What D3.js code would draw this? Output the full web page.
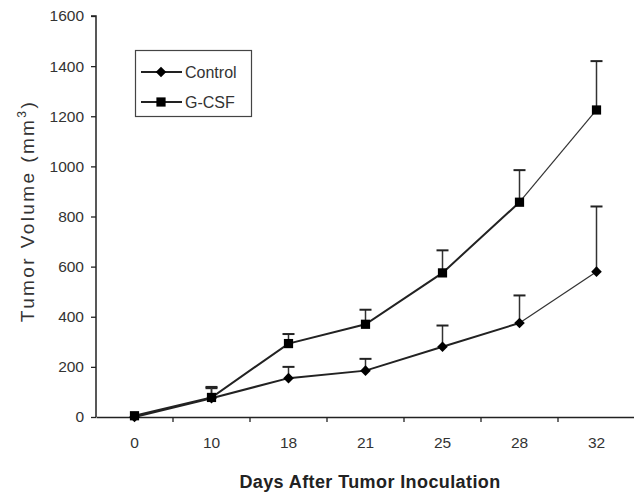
<!DOCTYPE html>
<html><head><meta charset="utf-8">
<script src="https://cdn.jsdelivr.net/npm/d3@7"></script>
<style>body{margin:0;background:#fff}svg{display:block}text{font-family:"Liberation Sans",Arial,sans-serif}</style>
</head><body><svg id="c" width="634" height="492"></svg>
<script>
const days = ["0","10","18","21","25","28","32"];
const controlVals = [0, 75, 155, 185, 280, 375, 580];
const controlErr = [0, 40, 45, 47, 85, 110, 260];
const gcsfVals = [5, 78, 293, 370, 575, 857, 1225];
const gcsfErr = [0, 42, 38, 58, 90, 128, 195];
const yTicks = [0, 200, 400, 600, 800, 1000, 1200, 1400, 1600];

const svg = d3.select("#c");
const x = d3.scaleBand().domain(days).range([96, 635]);
const y = d3.scaleLinear().domain([0, 1600]).range([417, 16]);
const ink = "#222";

// axes
const yAxis = svg.append("g").attr("transform", "translate(96,0)")
  .call(d3.axisLeft(y).tickValues(yTicks).tickFormat(d3.format("d")).tickSize(5).tickPadding(7));
yAxis.select(".domain").attr("stroke", ink).attr("stroke-width", 1.5).attr("d", `M-5,${y(1600)}H0V${y(0)}`);
yAxis.selectAll(".tick line").attr("stroke", ink).attr("stroke-width", 1.3);
yAxis.selectAll("text").attr("font-size", 15.5).attr("fill", "#333");

const xAxis = svg.append("g").attr("transform", "translate(0,417)")
  .call(d3.axisBottom(x).tickSize(0).tickPadding(20));
xAxis.select(".domain").attr("stroke", ink).attr("stroke-width", 1.5);
xAxis.selectAll("text").attr("font-size", 15.5).attr("fill", "#333");
// ticks between categories
svg.append("g").selectAll("line").data(days).join("line")
  .attr("x1", d => x(d) + x.bandwidth()).attr("x2", d => x(d) + x.bandwidth())
  .attr("y1", 417).attr("y2", 422).attr("stroke", ink).attr("stroke-width", 1.3);

// titles
svg.append("text").attr("transform", "translate(34,211) rotate(-90)")
  .attr("text-anchor", "middle").attr("font-size", 19).attr("fill", "#333")
  .attr("letter-spacing", 2.4)
  .call(t => { t.append("tspan").text("Tumor Volume (mm");
               t.append("tspan").attr("font-size", 12).attr("dy", -8).text("3");
               t.append("tspan").attr("dy", 8).text(")"); });
svg.append("text").attr("x", 370).attr("y", 488).attr("text-anchor", "middle")
  .attr("font-size", 18).attr("font-weight", "bold").attr("fill", "#222").attr("letter-spacing", 0.4)
  .text("Days After Tumor Inoculation");

const cx = d => x(d) + x.bandwidth() / 2;
const markerD = { diamond: d3.symbol().type(d3.symbolSquare).size(56)(), square: d3.symbol().type(d3.symbolSquare).size(85)() };

function series(vals, errs, shape) {
  const g = svg.append("g");
  const pts = days.map((d, i) => ({ d, v: vals[i], e: errs[i] }));
  const eb = pts.filter(p => p.e > 0);
  g.selectAll(".eb").data(eb).join("line").attr("x1", p => cx(p.d)).attr("x2", p => cx(p.d))
    .attr("y1", p => y(p.v)).attr("y2", p => y(p.v + p.e)).attr("stroke", "#333").attr("stroke-width", 1.5);
  g.selectAll(".cap").data(eb).join("line").attr("x1", p => cx(p.d) - 6).attr("x2", p => cx(p.d) + 6)
    .attr("y1", p => y(p.v + p.e)).attr("y2", p => y(p.v + p.e)).attr("stroke", ink).attr("stroke-width", 2);
  const line = d3.line().x(p => cx(p.d)).y(p => y(p.v));
  g.append("path").attr("d", line(pts.slice(0, 6))).attr("fill", "none").attr("stroke", ink).attr("stroke-width", 2);
  g.append("path").attr("d", line(pts.slice(5))).attr("fill", "none").attr("stroke", "#333").attr("stroke-width", 1.2);
  g.selectAll(".m").data(pts).join("path")
    .attr("d", markerD[shape])
    .attr("transform", p => `translate(${cx(p.d)},${y(p.v)})` + (shape === "diamond" ? " rotate(45)" : ""))
    .attr("fill", "#000");
}
series(controlVals, controlErr, "diamond");
series(gcsfVals, gcsfErr, "square");

// legend
const lg = svg.append("g");
lg.append("rect").attr("x", 135.5).attr("y", 50.5).attr("width", 116).attr("height", 66)
  .attr("fill", "#fff").attr("stroke", "#444").attr("stroke-width", 1.2);
const items = [["Control", "diamond"], ["G-CSF", "square"]];
items.forEach(([name, shape], i) => {
  const yy = 72 + i * 30;
  lg.append("line").attr("x1", 141).attr("x2", 182).attr("y1", yy).attr("y2", yy).attr("stroke", ink).attr("stroke-width", 2);
  lg.append("path").attr("d", markerD[shape]).attr("transform", `translate(161,${yy})` + (shape === "diamond" ? " rotate(45)" : "")).attr("fill", "#000");
  lg.append("text").attr("x", 185).attr("y", yy + 6).attr("font-size", 16).attr("fill", "#333").text(name);
});
</script></body></html>
